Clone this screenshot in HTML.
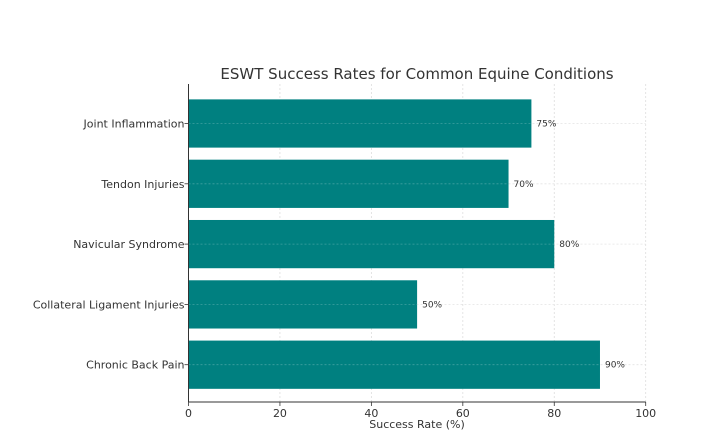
<!DOCTYPE html>
<html><head><meta charset="utf-8"><style>
body{margin:0;background:#fff;}
svg{display:block;font-family:"DejaVu Sans","Liberation Sans",sans-serif;}
</style></head><body>
<svg id="chart" width="721" height="430">
<text x="417" y="79" text-anchor="middle" font-size="15" fill="#333">ESWT Success Rates for Common Equine Conditions</text>
<g id="grid"></g><g id="bars"></g><g id="axes"></g>
<text x="417" y="428" text-anchor="middle" font-size="11" fill="#333">Success Rate (%)</text>
</svg>
<script>
const categories=["Joint Inflammation","Tendon Injuries","Navicular Syndrome","Collateral Ligament Injuries","Chronic Back Pain"];
const values=[75,70,80,50,90];
const xTicks=[0,20,40,60,80,100];
const L=188.5,R=645.7,T=84,B=402;
const x=v=>L+(v-0)/(100-0)*(R-L);
const step=60.3,firstC=123.5;
const y=i=>firstC+i*step;
const bh=step*0.8;
const ns="http://www.w3.org/2000/svg";
function mk(t,a,p,txt){const e=document.createElementNS(ns,t);for(const k in a)e.setAttribute(k,a[k]);if(txt!==undefined)e.textContent=txt;p.appendChild(e);return e;}
const grid=document.getElementById('grid'),bars=document.getElementById('bars'),axes=document.getElementById('axes');
xTicks.forEach(t=>{
 const g=mk('line',{x1:x(t),x2:x(t),y1:T,y2:B,stroke:'#ddd','stroke-width':0.8,'stroke-dasharray':'2,2'},grid);
 
 
 const tk=mk('line',{x1:x(t),x2:x(t),y1:B,y2:B+4,stroke:'#333','stroke-width':0.8},axes);
 
 
 const lb=mk('text',{x:x(t),y:B+15,'text-anchor':'middle','font-size':11,fill:'#333'},axes,String(t));
 
 
});
categories.forEach((c,i)=>{
 const cy=y(i);
 const g=mk('line',{x1:L,x2:R,y1:cy,y2:cy,stroke:'#ddd','stroke-width':0.8,'stroke-dasharray':'2,2'},grid);
 
 
 const r=mk('rect',{x:x(0),y:cy-bh/2,width:x(values[i])-x(0),height:bh,fill:'#008080'},bars);
 
 
 const gl=mk('line',{x1:L,x2:R,y1:cy,y2:cy,stroke:'#ffffff','stroke-opacity':0.25,'stroke-width':0.8,'stroke-dasharray':'2,2'},bars);
 
 
 const v=mk('text',{x:x(values[i])+5,y:cy+3,'font-size':9,fill:'#333'},bars,values[i]+'%');
 
 
 const tk=mk('line',{x1:L-4,x2:L,y1:cy,y2:cy,stroke:'#333','stroke-width':0.8},axes);
 
 
 const lb=mk('text',{x:L-4,y:cy+4,'text-anchor':'end','font-size':11,fill:'#333'},axes,c);
 
 
});
const ya=mk('line',{x1:L,x2:L,y1:T,y2:B,stroke:'#333','stroke-width':1},axes);


const xa=mk('line',{x1:L,x2:R,y1:B,y2:B,stroke:'#333','stroke-width':1},axes);


</script>
</body></html>
